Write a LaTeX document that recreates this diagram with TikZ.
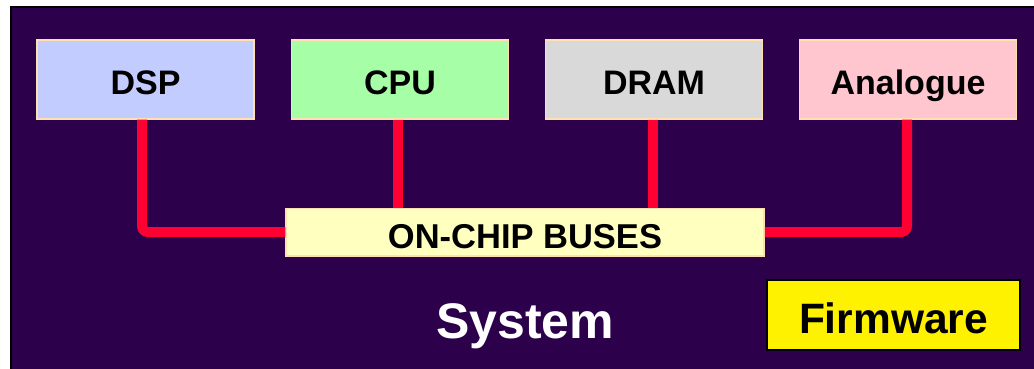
\documentclass[tikz,border=0pt]{standalone}
\usepackage{fontspec}
\setmainfont{Liberation Sans}
\definecolor{sysbg}{HTML}{2C004A}
\definecolor{boxedge}{HTML}{FFE0B0}
\definecolor{dspc}{HTML}{C3CCFF}
\definecolor{cpuc}{HTML}{A6FFA6}
\definecolor{dramc}{HTML}{D9D9D9}
\definecolor{anac}{HTML}{FFC6D0}
\definecolor{busy}{HTML}{FFFFC0}
\definecolor{busred}{HTML}{FF0033}
\begin{document}
\begin{tikzpicture}[x=1pt,y=-1pt,
  unitbox/.style={draw=boxedge, line width=1.5pt, minimum width=217pt, minimum height=79pt,
    inner sep=0pt, font=\fontsize{34}{38}\selectfont\bfseries, text height=30.3pt, text depth=0pt},
  buswire/.style={draw=busred, line width=10pt, rounded corners=6pt}]
\fill[white] (0,0) rectangle (1034,368);
\useasboundingbox (0,0) rectangle (1034,368);
\draw[fill=sysbg, draw=black, line width=2pt] (11,7) rectangle (1045,380);

\node[unitbox, fill=dspc] (dsp) at (145.5,79.25) {DSP};
\node[unitbox, fill=cpuc] (cpu) at (400,79.25) {CPU};
\node[unitbox, fill=dramc] (dram) at (654,79.25) {DRAM};
\node[unitbox, fill=anac] (ana) at (908,79.25) {Analogue};

\node[draw=boxedge, line width=1.5pt, fill=busy, minimum width=478pt, minimum height=47.5pt,
  inner sep=0pt, font=\fontsize{34.5}{38}\selectfont\bfseries, text height=32.7pt, text depth=0pt]
  (buses) at (525,232) {ON-CHIP BUSES};

\draw[buswire] ([xshift=-3.5pt]dsp.south) |- (buses.west);
\draw[buswire] ([xshift=-1pt]ana.south) |- (buses.east);
\draw[buswire] ([xshift=-2.5pt]cpu.south) -- ([xshift=-2.5pt]cpu.south |- buses.north);
\draw[buswire] ([xshift=-1.5pt]dram.south) -- ([xshift=-1.5pt]dram.south |- buses.north);

\node[draw=black, line width=2pt, fill=yellow, minimum width=253pt, minimum height=70pt,
  inner sep=0pt, font=\fontsize{42.5}{48}\selectfont\bfseries, text height=36.4pt, text depth=0pt]
  (fw) at (893.5,315) {Firmware};

\node[text=white, inner sep=0pt, font=\fontsize{50}{56}\selectfont\bfseries,
  text height=35.8pt, text depth=0pt] (sys) at (525,320.5) {System};
\end{tikzpicture}
\end{document}
